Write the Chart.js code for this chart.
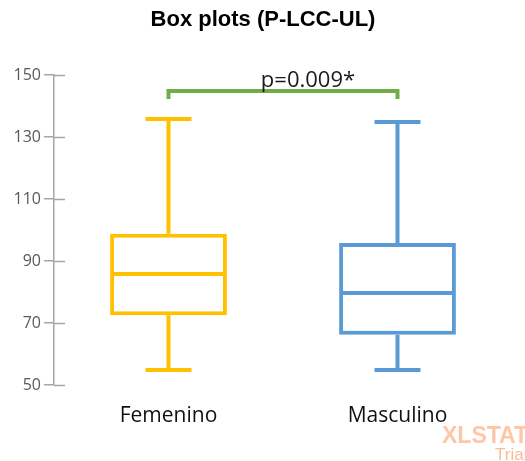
<!DOCTYPE html>
<html>
<head>
<meta charset="utf-8">
<script src="https://cdn.jsdelivr.net/npm/chart.js@4.4.1/dist/chart.umd.min.js"></script>
<style>
  html, body { margin: 0; padding: 0; background: #fff; }
  #wrap { width: 525px; height: 461px; position: relative; }
</style>
</head>
<body>
<div id="wrap"><canvas id="c"></canvas></div>
<script>
// Five-number summaries per group
const categories = ['Femenino', 'Masculino'];
const minVals    = [54.8, 54.8];
const q1Vals     = [72.5, 66.2];
const medianVals = [85.8, 79.7];
const q3Vals     = [98.8, 95.8];
const maxVals    = [135.8, 134.8];
const yTicks     = [50, 70, 90, 110, 130, 150];
const pLabel     = 'p=0.009*';
const bracketVal = 144.8;
const titleText  = 'Box plots (P-LCC-UL)';

const boxColors = ['#FFC000', '#5B9BD5'];
const axisGray = '#A6A6A6';

// Whiskers, caps, medians, significance bracket and extra texts
const boxExtras = {
  id: 'boxExtras',
  afterDatasetsDraw(chart) {
    const { ctx, scales: { x, y }, chartArea } = chart;
    const meta = chart.getDatasetMeta(0);
    ctx.save();
    ctx.lineCap = 'butt';
    categories.forEach((cat, i) => {
      const bar = meta.data[i];
      const cx = x.getPixelForValue(i);
      const half = bar.width / 2;
      const capHalf = 23;
      ctx.strokeStyle = boxColors[i];
      ctx.lineWidth = 4;
      const pMin = y.getPixelForValue(minVals[i]);
      const pQ1 = y.getPixelForValue(q1Vals[i]);
      const pMed = y.getPixelForValue(medianVals[i]);
      const pQ3 = y.getPixelForValue(q3Vals[i]);
      const pMax = y.getPixelForValue(maxVals[i]);
      ctx.beginPath();
      ctx.moveTo(cx, pQ3); ctx.lineTo(cx, pMax);
      ctx.moveTo(cx, pQ1); ctx.lineTo(cx, pMin);
      ctx.moveTo(cx - capHalf, pMax); ctx.lineTo(cx + capHalf, pMax);
      ctx.moveTo(cx - capHalf, pMin); ctx.lineTo(cx + capHalf, pMin);
      ctx.moveTo(cx - half + 2, pMed); ctx.lineTo(cx + half - 2, pMed);
      ctx.stroke();
    });

    // inner half of the y-axis tick marks
    ctx.strokeStyle = axisGray;
    ctx.lineWidth = 1.5;
    ctx.beginPath();
    yTicks.forEach(v => {
      const py = Math.round(y.getPixelForValue(v)) + 0.5;
      ctx.moveTo(chartArea.left, py); ctx.lineTo(chartArea.left + 11, py);
    });
    ctx.stroke();

    // significance bracket
    const bx0 = x.getPixelForValue(0);
    const bx1 = x.getPixelForValue(1);
    const by = y.getPixelForValue(bracketVal);
    ctx.strokeStyle = '#70AD47';
    ctx.lineWidth = 4;
    ctx.lineJoin = 'miter';
    ctx.beginPath();
    ctx.moveTo(bx0, by + 8); ctx.lineTo(bx0, by); ctx.lineTo(bx1, by); ctx.lineTo(bx1, by + 8);
    ctx.stroke();

    ctx.fillStyle = '#1a1a1a';
    ctx.font = '22px "Open Sans"';
    ctx.textAlign = 'center';
    ctx.textBaseline = 'middle';
    ctx.fillText(pLabel, 308, by - 10);

    // title
    ctx.fillStyle = '#000';
    ctx.font = 'bold 22px "Liberation Sans"';
    ctx.fillText(titleText, 263, 20);

    // watermark
    ctx.textAlign = 'left';
    ctx.textBaseline = 'alphabetic';
    ctx.fillStyle = 'rgba(255,160,105,0.6)';
    ctx.font = 'bold 23px "Liberation Sans"';
    ctx.fillText('XLSTAT', 442, 443);
    ctx.fillStyle = 'rgba(245,150,90,0.65)';
    ctx.font = '17px "Liberation Sans"';
    ctx.fillText('Trial', 495, 460);

    // caption line running off the bottom edge
    ctx.fillStyle = '#555';
    ctx.font = '22px "Liberation Serif"';
    ctx.fillText('los resultados de la prueba del análisis XLSTAT-Pro', 40, 475);
    ctx.restore();
  }
};

new Chart(document.getElementById('c'), {
  type: 'bar',
  data: {
    labels: categories,
    datasets: [{
      data: categories.map((c, i) => [q1Vals[i], q3Vals[i]]),
      backgroundColor: '#ffffff',
      borderColor: boxColors,
      borderWidth: 4,
      borderSkipped: false,
      barPercentage: 0.51,
      categoryPercentage: 1
    }]
  },
  options: {
    responsive: true,
    maintainAspectRatio: false,
    animation: false,
    layout: { padding: { top: 75, right: 13, left: 0, bottom: 0 } },
    plugins: { legend: { display: false }, tooltip: { enabled: false }, title: { display: false } },
    scales: {
      x: {
        grid: { display: false },
        border: { display: false },
        ticks: { color: '#111', font: { family: 'Open Sans', size: 21 }, padding: 10 },
        afterFit(s) { s.height = 76; }
      },
      y: {
        min: 50, max: 150,
        afterBuildTicks(s) { s.ticks = yTicks.map(v => ({ value: v })); },
        grid: { drawOnChartArea: false, drawTicks: true, tickLength: 10, color: axisGray, lineWidth: 1.5 },
        border: { display: true, color: axisGray, width: 1.5 },
        ticks: { color: '#595959', font: { family: 'Open Sans', size: 16 }, padding: 3 },
        afterFit(s) { s.width = 54; }
      }
    }
  },
  plugins: [boxExtras]
});
</script>
</body>
</html>
